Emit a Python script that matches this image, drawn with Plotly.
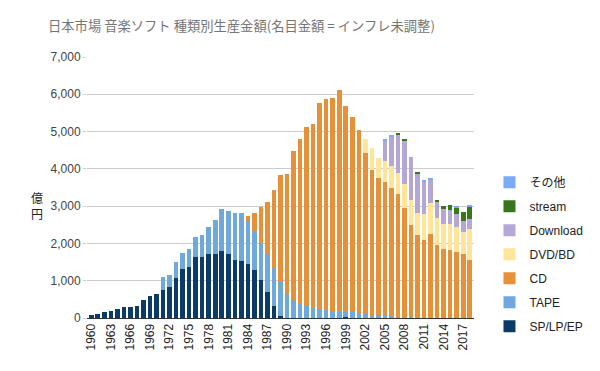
import plotly.graph_objects as go

years = list(range(1960, 2019))

sp_lp_ep = [70, 100, 150, 180, 240, 300, 300, 320, 480, 590,
            650, 750, 825, 1076, 1318, 1372, 1641, 1641, 1713, 1713,
            1794, 1713, 1552, 1530, 1444, 1283, 1013, 690, 314, 45,
            10, 5, 5, 5, 5, 5, 5, 5, 5, 27,
            5, 3, 3, 3, 3, 3, 3, 3, 3, 3,
            3, 3, 3, 3, 5, 5, 5, 5, 5]

tape = [0, 0, 0, 0, 0, 0, 0, 0, 0, 0,
        0, 345, 332, 431, 422, 476, 529, 583, 726, 915,
        1130, 1157, 1264, 1286, 1157, 1049, 996, 1032, 1040, 924,
        636, 484, 377, 323, 269, 215, 215, 179, 179, 134,
        161, 125, 108, 72, 72, 58, 54, 18, 12, 8,
        5, 3, 3, 3, 3, 3, 3, 3, 3]

cd = [0] * 24 + [134, 484, 978, 1390, 2081, 2870,
                 3219, 4000, 4412, 4807, 4942, 5534, 5642, 5704, 5920, 5534,
                 5238, 4924, 4322, 3888, 3678, 3582, 3426, 3297, 2925, 2474,
                 2209, 2077, 2238, 1943, 1836, 1810, 1756, 1702, 1542]

dvd_bd = [0] * 42 + [377, 590, 530, 565, 590, 565, 643, 670,
                     590, 697, 830, 724, 670, 696, 670, 590, 830]

download = [0] * 45 + [542, 785, 1045, 1179, 1152,
                       1071, 884, 643, 455, 402, 375, 348, 294, 268]

stream = [0] * 47 + [27, 27, 0,
                     27, 0, 0, 27, 80, 134, 180, 260, 348]

other = [0] * 45 + [27, 27, 0, 0, 0,
                    0, 27, 27, 0, 0, 0, 27, 0, 27]

series = [
    ("SP/LP/EP", sp_lp_ep, "#0b3b66"),
    ("TAPE", tape, "#6fa8dc"),
    ("CD", cd, "#e69138"),
    ("DVD/BD", dvd_bd, "#ffe599"),
    ("Download", download, "#b4a7d6"),
    ("stream", stream, "#38761d"),
    ("その他", other, "#7baaf7"),
]

fig = go.Figure()
n = len(series)
for i, (name, vals, color) in enumerate(series):
    fig.add_trace(go.Bar(x=years, y=vals, name=name, marker_color=color,
                         marker_line_width=0, legendgroup=name,
                         legendrank=n - i))

font_family = "Arial, Liberation Sans, Noto Sans CJK JP, sans-serif"

fig.update_layout(
    width=600, height=371,
    barmode="stack", bargap=0.3,
    paper_bgcolor="white", plot_bgcolor="white",
    margin=dict(l=87, r=113, t=57, b=53),
    font=dict(family=font_family, size=12, color="#222222"),
    title=dict(text="日本市場 音楽ソフト 種類別生産金額(名目金額 = インフレ未調整)",
               x=48 / 600, xanchor="left", y=1 - 26 / 371, yanchor="middle",
               font=dict(size=13.3, color="#757575",
                         family="Noto Sans CJK JP, sans-serif")),
    legend=dict(x=1.04, xanchor="left", y=0.576, yanchor="top",
                traceorder="grouped", tracegroupgap=5,
                font=dict(size=12, color="#222222"),
                bgcolor="rgba(0,0,0,0)"),
    showlegend=True,
)

fig.update_xaxes(
    range=[1959.35, 2018.65],
    tickmode="array", tickvals=list(range(1960, 2018, 3)),
    ticktext=[str(y) for y in range(1960, 2018, 3)],
    tickangle=-90, showgrid=False,
    showline=True, linecolor="#333333", linewidth=1,
    ticks="", tickfont=dict(size=12, color="#222222"),
)
fig.update_yaxes(
    range=[0, 7000], tickvals=list(range(0, 7001, 1000)),
    tickformat=",", showgrid=True, gridcolor="#cccccc", gridwidth=1,
    zeroline=False, ticks="outside", ticklen=3, tickcolor="#cccccc",
    tickfont=dict(size=12, color="#444444"),
)

fig.add_annotation(text="億<br>円", xref="paper", yref="paper",
                   x=(35 - 87) / 400, y=(318 - 205) / 261,
                   xanchor="center", yanchor="middle", showarrow=False,
                   font=dict(size=12, color="#222222",
                             family="Noto Sans CJK JP, sans-serif"))

fig.write_html("out.html", config={"displayModeBar": False},
               post_script="document.body.style.margin='0';")
